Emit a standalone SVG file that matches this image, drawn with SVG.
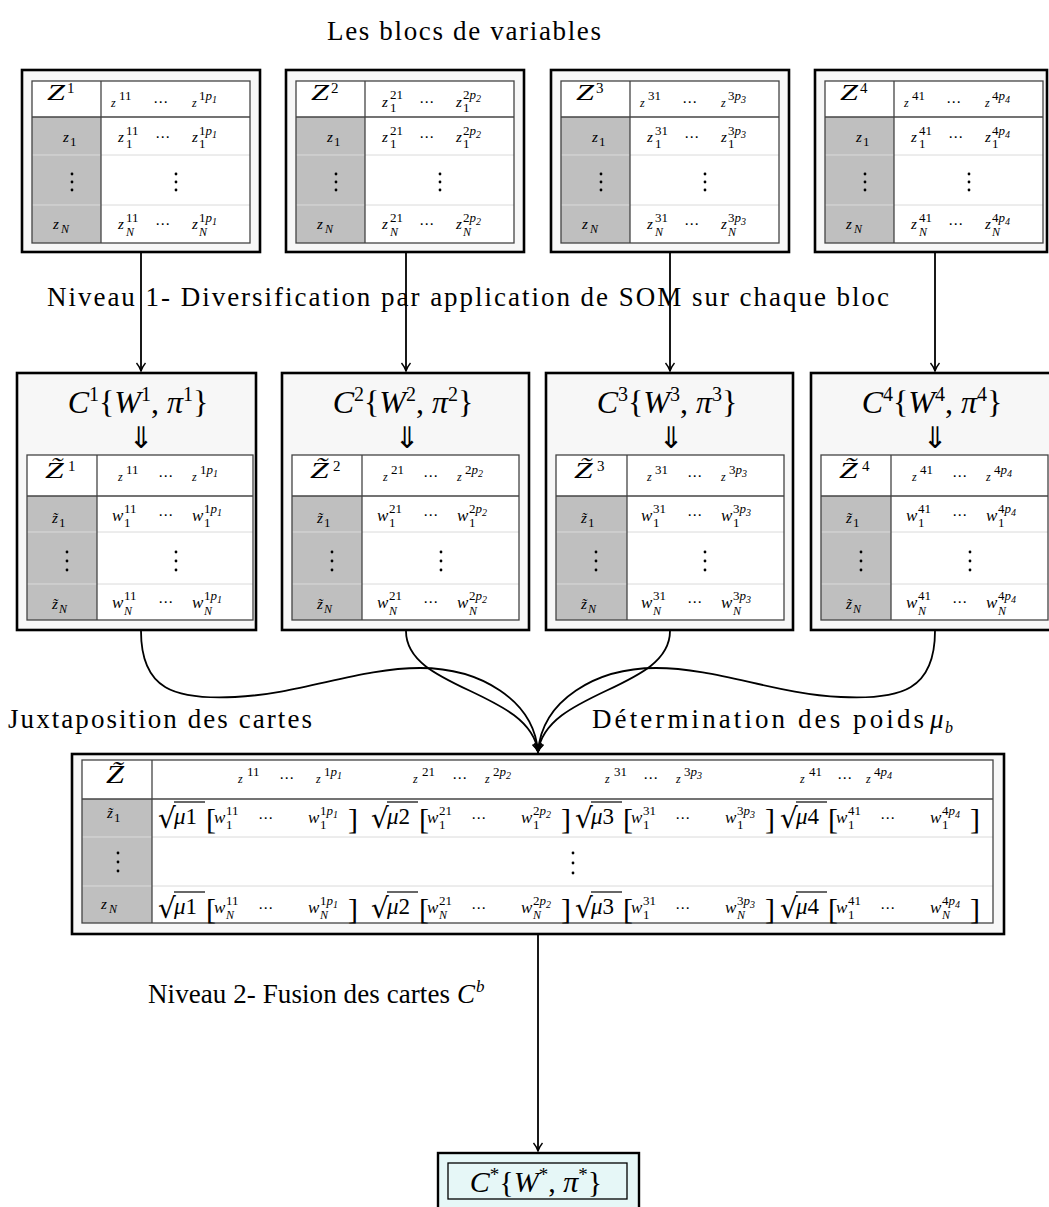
<svg xmlns="http://www.w3.org/2000/svg" width="1049" height="1207" viewBox="0 0 1049 1207">
<style>
text{font-family:"Liberation Serif","DejaVu Serif",serif;fill:#000}
.i{font-style:italic}
.box{fill:#f7f7f7;stroke:#000;stroke-width:2.6}
.tab{fill:#fff;stroke:none}
.tb{fill:none;stroke:#444;stroke-width:1.3}
.gray{fill:#bfbfbf}
.ln{stroke:#444;stroke-width:1.3}
.fl{stroke:#dadada;stroke-width:1}
.lab{font-size:27px}
.Z{font-size:24px;font-style:italic}
.Zs{font-size:15px}
.zh{font-size:12px;font-style:italic}
.z{font-size:15px;font-style:italic}
.s{font-size:13px}
.sN{font-size:12px;font-style:italic}
.ss{font-size:10px;font-style:italic}
.w{font-size:17px;font-style:italic}
.cd{font-family:"DejaVu Sans",sans-serif;font-size:15px}
.title{font-size:32px}
.dar{font-family:"DejaVu Sans",sans-serif;font-size:30px}
.rad{font-family:"DejaVu Serif",serif;font-size:28px}
.mu{font-size:23px}
.br{font-size:30px}
.res{font-size:30px}
.ob{stroke:#000;stroke-width:1.2}
.con{fill:none;stroke:#000;stroke-width:1.8}
.res-box{fill:#e6f7f7;stroke:#000;stroke-width:2.4}
.res-in{fill:#e6f7f7;stroke:#000;stroke-width:1.3}
</style>
<defs>
<marker id="ah" markerUnits="userSpaceOnUse" viewBox="-9 -6 10 12" refX="0" refY="0" markerWidth="10" markerHeight="12" orient="auto">
<path d="M-8,-4.5 C-5,-2 -2,-0.6 0,0 C-2,0.6 -5,2 -8,4.5" fill="none" stroke="#000" stroke-width="1.4"/>
</marker>
<circle id="d" r="1.4" fill="#000"/>
</defs>
<rect width="1049" height="1207" fill="#fff"/>

<g id="labels">
<text class="lab" x="327" y="40" textLength="274" lengthAdjust="spacing">Les blocs de variables</text>
<text class="lab" x="47" y="306" textLength="842" lengthAdjust="spacing">Niveau 1- Diversification par application de SOM sur chaque bloc</text>
<text class="lab" x="8" y="728" textLength="304" lengthAdjust="spacing">Juxtaposition des cartes</text>
<text class="lab" x="592" y="728" textLength="332" lengthAdjust="spacing">Détermination des poids</text>
<text class="lab i" x="930" y="728">μ</text><text class="sN" x="945" y="733" style="font-size:16px">b</text>
<text class="lab" x="148" y="1003" textLength="302" lengthAdjust="spacing">Niveau 2- Fusion des cartes</text>
<text class="lab i" x="457" y="1003">C</text><text class="sN" x="476" y="992" style="font-size:17px">b</text>
</g>

<!-- top blocks -->
<g id="block1" transform="translate(22,70)">
<rect class="box" width="238" height="182"/>
<rect class="tab" x="10" y="11" width="218" height="162"/>
<rect class="gray" x="10" y="47" width="69" height="126"/>
<line class="fl" x1="10" y1="85" x2="228" y2="85"/><line class="fl" x1="10" y1="135" x2="228" y2="135"/>
<line class="ln" x1="10" y1="47" x2="228" y2="47"/><line class="ln" x1="79" y1="11" x2="79" y2="173"/>
<rect class="tb" x="10" y="11" width="218" height="162"/>
<text class="Z" x="25" y="30" textLength="18" lengthAdjust="spacingAndGlyphs">Z</text><text class="Zs" x="45" y="23">1</text>
<text class="zh" x="89" y="37">z</text><text class="s" x="97" y="30">11</text><text class="cd" x="131" y="37">⋯</text><text class="zh" x="170" y="37">z</text><text class="s" x="177" y="30">1<tspan class="i">p</tspan><tspan class="ss" dy="3">1</tspan></text>
<text class="z" x="41" y="72">z</text><text class="s" x="48" y="76">1</text>
<text class="z" x="96" y="72">z</text><text class="s" x="104" y="65">11</text><text class="s" x="104" y="78">1</text><text class="cd" x="133" y="72">⋯</text><text class="z" x="170" y="72">z</text><text class="s" x="177" y="65">1<tspan class="i">p</tspan><tspan class="ss" dy="3">1</tspan></text><text class="s" x="177" y="78">1</text>
<use href="#d" x="50" y="104"/><use href="#d" x="50" y="112"/><use href="#d" x="50" y="120"/>
<use href="#d" x="154" y="104"/><use href="#d" x="154" y="112"/><use href="#d" x="154" y="120"/>
<text class="z" x="31" y="159">z</text><text class="sN" x="39" y="163">N</text>
<text class="z" x="96" y="159">z</text><text class="s" x="104" y="152">11</text><text class="sN" x="104" y="166">N</text><text class="cd" x="133" y="159">⋯</text><text class="z" x="170" y="159">z</text><text class="s" x="177" y="152">1<tspan class="i">p</tspan><tspan class="ss" dy="3">1</tspan></text><text class="sN" x="177" y="166">N</text>
</g>

<g id="block2" transform="translate(286,70)">
<rect class="box" width="238" height="182"/>
<rect class="tab" x="10" y="11" width="218" height="162"/>
<rect class="gray" x="10" y="47" width="69" height="126"/>
<line class="fl" x1="10" y1="85" x2="228" y2="85"/><line class="fl" x1="10" y1="135" x2="228" y2="135"/>
<line class="ln" x1="10" y1="47" x2="228" y2="47"/><line class="ln" x1="79" y1="11" x2="79" y2="173"/>
<rect class="tb" x="10" y="11" width="218" height="162"/>
<text class="Z" x="25" y="30" textLength="18" lengthAdjust="spacingAndGlyphs">Z</text><text class="Zs" x="45" y="23">2</text>
<text class="z" x="96" y="37">z</text><text class="s" x="104" y="29">21</text><text class="s" x="104" y="42">1</text><text class="cd" x="133" y="37">⋯</text><text class="z" x="170" y="37">z</text><text class="s" x="177" y="29">2<tspan class="i">p</tspan><tspan class="ss" dy="3">2</tspan></text><text class="s" x="177" y="42">1</text>
<text class="z" x="41" y="72">z</text><text class="s" x="48" y="76">1</text>
<text class="z" x="96" y="72">z</text><text class="s" x="104" y="65">21</text><text class="s" x="104" y="78">1</text><text class="cd" x="133" y="72">⋯</text><text class="z" x="170" y="72">z</text><text class="s" x="177" y="65">2<tspan class="i">p</tspan><tspan class="ss" dy="3">2</tspan></text><text class="s" x="177" y="78">1</text>
<use href="#d" x="50" y="104"/><use href="#d" x="50" y="112"/><use href="#d" x="50" y="120"/>
<use href="#d" x="154" y="104"/><use href="#d" x="154" y="112"/><use href="#d" x="154" y="120"/>
<text class="z" x="31" y="159">z</text><text class="sN" x="39" y="163">N</text>
<text class="z" x="96" y="159">z</text><text class="s" x="104" y="152">21</text><text class="sN" x="104" y="166">N</text><text class="cd" x="133" y="159">⋯</text><text class="z" x="170" y="159">z</text><text class="s" x="177" y="152">2<tspan class="i">p</tspan><tspan class="ss" dy="3">2</tspan></text><text class="sN" x="177" y="166">N</text>
</g>

<g id="block3" transform="translate(551,70)">
<rect class="box" width="238" height="182"/>
<rect class="tab" x="10" y="11" width="218" height="162"/>
<rect class="gray" x="10" y="47" width="69" height="126"/>
<line class="fl" x1="10" y1="85" x2="228" y2="85"/><line class="fl" x1="10" y1="135" x2="228" y2="135"/>
<line class="ln" x1="10" y1="47" x2="228" y2="47"/><line class="ln" x1="79" y1="11" x2="79" y2="173"/>
<rect class="tb" x="10" y="11" width="218" height="162"/>
<text class="Z" x="25" y="30" textLength="18" lengthAdjust="spacingAndGlyphs">Z</text><text class="Zs" x="45" y="23">3</text>
<text class="zh" x="89" y="37">z</text><text class="s" x="97" y="30">31</text><text class="cd" x="131" y="37">⋯</text><text class="zh" x="170" y="37">z</text><text class="s" x="177" y="30">3<tspan class="i">p</tspan><tspan class="ss" dy="3">3</tspan></text>
<text class="z" x="41" y="72">z</text><text class="s" x="48" y="76">1</text>
<text class="z" x="96" y="72">z</text><text class="s" x="104" y="65">31</text><text class="s" x="104" y="78">1</text><text class="cd" x="133" y="72">⋯</text><text class="z" x="170" y="72">z</text><text class="s" x="177" y="65">3<tspan class="i">p</tspan><tspan class="ss" dy="3">3</tspan></text><text class="s" x="177" y="78">1</text>
<use href="#d" x="50" y="104"/><use href="#d" x="50" y="112"/><use href="#d" x="50" y="120"/>
<use href="#d" x="154" y="104"/><use href="#d" x="154" y="112"/><use href="#d" x="154" y="120"/>
<text class="z" x="31" y="159">z</text><text class="sN" x="39" y="163">N</text>
<text class="z" x="96" y="159">z</text><text class="s" x="104" y="152">31</text><text class="sN" x="104" y="166">N</text><text class="cd" x="133" y="159">⋯</text><text class="z" x="170" y="159">z</text><text class="s" x="177" y="152">3<tspan class="i">p</tspan><tspan class="ss" dy="3">3</tspan></text><text class="sN" x="177" y="166">N</text>
</g>

<g id="block4" transform="translate(815,70)">
<rect class="box" width="232" height="182"/>
<rect class="tab" x="10" y="11" width="218" height="162"/>
<rect class="gray" x="10" y="47" width="69" height="126"/>
<line class="fl" x1="10" y1="85" x2="228" y2="85"/><line class="fl" x1="10" y1="135" x2="228" y2="135"/>
<line class="ln" x1="10" y1="47" x2="228" y2="47"/><line class="ln" x1="79" y1="11" x2="79" y2="173"/>
<rect class="tb" x="10" y="11" width="218" height="162"/>
<text class="Z" x="25" y="30" textLength="18" lengthAdjust="spacingAndGlyphs">Z</text><text class="Zs" x="45" y="23">4</text>
<text class="zh" x="89" y="37">z</text><text class="s" x="97" y="30">41</text><text class="cd" x="131" y="37">⋯</text><text class="zh" x="170" y="37">z</text><text class="s" x="177" y="30">4<tspan class="i">p</tspan><tspan class="ss" dy="3">4</tspan></text>
<text class="z" x="41" y="72">z</text><text class="s" x="48" y="76">1</text>
<text class="z" x="96" y="72">z</text><text class="s" x="104" y="65">41</text><text class="s" x="104" y="78">1</text><text class="cd" x="133" y="72">⋯</text><text class="z" x="170" y="72">z</text><text class="s" x="177" y="65">4<tspan class="i">p</tspan><tspan class="ss" dy="3">4</tspan></text><text class="s" x="177" y="78">1</text>
<use href="#d" x="50" y="104"/><use href="#d" x="50" y="112"/><use href="#d" x="50" y="120"/>
<use href="#d" x="154" y="104"/><use href="#d" x="154" y="112"/><use href="#d" x="154" y="120"/>
<text class="z" x="31" y="159">z</text><text class="sN" x="39" y="163">N</text>
<text class="z" x="96" y="159">z</text><text class="s" x="104" y="152">41</text><text class="sN" x="104" y="166">N</text><text class="cd" x="133" y="159">⋯</text><text class="z" x="170" y="159">z</text><text class="s" x="177" y="152">4<tspan class="i">p</tspan><tspan class="ss" dy="3">4</tspan></text><text class="sN" x="177" y="166">N</text>
</g>

<!-- maps -->
<g id="map1" transform="translate(17,373)">
<rect class="box" width="239" height="257"/>
<text class="title" x="121" y="40" text-anchor="middle"><tspan class="i">C</tspan><tspan font-size="20" dy="-12">1</tspan><tspan dy="12">{</tspan><tspan class="i">W</tspan><tspan font-size="20" dy="-12">1</tspan><tspan dy="12">, </tspan><tspan class="i">π</tspan><tspan font-size="20" dy="-12">1</tspan><tspan dy="12">}</tspan></text>
<text class="dar" x="124" y="75" text-anchor="middle">⇓</text>
<rect class="tab" x="10" y="82" width="226" height="165"/>
<rect class="gray" x="10" y="123" width="70" height="124"/>
<line class="fl" x1="10" y1="159" x2="236" y2="159"/><line class="fl" x1="10" y1="211" x2="236" y2="211"/>
<line class="ln" x1="10" y1="123" x2="236" y2="123"/><line class="ln" x1="80" y1="82" x2="80" y2="247"/>
<rect class="tb" x="10" y="82" width="226" height="165"/>
<text class="Z" transform="translate(28,105) scale(1.4,1)">Z&#x303;</text><text class="Zs" x="51" y="98">1</text>
<text class="zh" x="101" y="108">z</text><text class="s" x="109" y="101">11</text><text class="cd" x="141" y="108">⋯</text><text class="zh" x="175" y="108">z</text><text class="s" x="183" y="101">1<tspan class="i">p</tspan><tspan class="ss" dy="3">1</tspan></text>
<text class="z" x="35" y="150">z&#x303;</text><text class="s" x="42" y="154">1</text>
<text class="w" x="95" y="148">w</text><text class="s" x="107" y="140">11</text><text class="s" x="107" y="154">1</text><text class="cd" x="141" y="147">⋯</text><text class="w" x="175" y="148">w</text><text class="s" x="187" y="140">1<tspan class="i">p</tspan><tspan class="ss" dy="3">1</tspan></text><text class="s" x="187" y="154">1</text>
<use href="#d" x="50" y="179"/><use href="#d" x="50" y="188"/><use href="#d" x="50" y="197"/>
<use href="#d" x="159" y="179"/><use href="#d" x="159" y="188"/><use href="#d" x="159" y="197"/>
<text class="z" x="35" y="236">z&#x303;</text><text class="sN" x="42" y="240">N</text>
<text class="w" x="95" y="235">w</text><text class="s" x="107" y="227">11</text><text class="sN" x="107" y="242">N</text><text class="cd" x="141" y="234">⋯</text><text class="w" x="175" y="235">w</text><text class="s" x="187" y="227">1<tspan class="i">p</tspan><tspan class="ss" dy="3">1</tspan></text><text class="sN" x="187" y="242">N</text>
</g>

<g id="map2" transform="translate(282,373)">
<rect class="box" width="247" height="257"/>
<text class="title" x="121" y="40" text-anchor="middle"><tspan class="i">C</tspan><tspan font-size="20" dy="-12">2</tspan><tspan dy="12">{</tspan><tspan class="i">W</tspan><tspan font-size="20" dy="-12">2</tspan><tspan dy="12">, </tspan><tspan class="i">π</tspan><tspan font-size="20" dy="-12">2</tspan><tspan dy="12">}</tspan></text>
<text class="dar" x="125" y="75" text-anchor="middle">⇓</text>
<rect class="tab" x="10" y="82" width="227" height="165"/>
<rect class="gray" x="10" y="123" width="70" height="124"/>
<line class="fl" x1="10" y1="159" x2="237" y2="159"/><line class="fl" x1="10" y1="211" x2="237" y2="211"/>
<line class="ln" x1="10" y1="123" x2="237" y2="123"/><line class="ln" x1="80" y1="82" x2="80" y2="247"/>
<rect class="tb" x="10" y="82" width="227" height="165"/>
<text class="Z" transform="translate(28,105) scale(1.4,1)">Z&#x303;</text><text class="Zs" x="51" y="98">2</text>
<text class="zh" x="101" y="108">z</text><text class="s" x="109" y="101">21</text><text class="cd" x="141" y="108">⋯</text><text class="zh" x="175" y="108">z</text><text class="s" x="183" y="101">2<tspan class="i">p</tspan><tspan class="ss" dy="3">2</tspan></text>
<text class="z" x="35" y="150">z&#x303;</text><text class="s" x="42" y="154">1</text>
<text class="w" x="95" y="148">w</text><text class="s" x="107" y="140">21</text><text class="s" x="107" y="154">1</text><text class="cd" x="141" y="147">⋯</text><text class="w" x="175" y="148">w</text><text class="s" x="187" y="140">2<tspan class="i">p</tspan><tspan class="ss" dy="3">2</tspan></text><text class="s" x="187" y="154">1</text>
<use href="#d" x="50" y="179"/><use href="#d" x="50" y="188"/><use href="#d" x="50" y="197"/>
<use href="#d" x="159" y="179"/><use href="#d" x="159" y="188"/><use href="#d" x="159" y="197"/>
<text class="z" x="35" y="236">z&#x303;</text><text class="sN" x="42" y="240">N</text>
<text class="w" x="95" y="235">w</text><text class="s" x="107" y="227">21</text><text class="sN" x="107" y="242">N</text><text class="cd" x="141" y="234">⋯</text><text class="w" x="175" y="235">w</text><text class="s" x="187" y="227">2<tspan class="i">p</tspan><tspan class="ss" dy="3">2</tspan></text><text class="sN" x="187" y="242">N</text>
</g>

<g id="map3" transform="translate(546,373)">
<rect class="box" width="247" height="257"/>
<text class="title" x="121" y="40" text-anchor="middle"><tspan class="i">C</tspan><tspan font-size="20" dy="-12">3</tspan><tspan dy="12">{</tspan><tspan class="i">W</tspan><tspan font-size="20" dy="-12">3</tspan><tspan dy="12">, </tspan><tspan class="i">π</tspan><tspan font-size="20" dy="-12">3</tspan><tspan dy="12">}</tspan></text>
<text class="dar" x="125" y="75" text-anchor="middle">⇓</text>
<rect class="tab" x="10" y="82" width="228" height="165"/>
<rect class="gray" x="10" y="123" width="71" height="124"/>
<line class="fl" x1="10" y1="159" x2="238" y2="159"/><line class="fl" x1="10" y1="211" x2="238" y2="211"/>
<line class="ln" x1="10" y1="123" x2="238" y2="123"/><line class="ln" x1="81" y1="82" x2="81" y2="247"/>
<rect class="tb" x="10" y="82" width="228" height="165"/>
<text class="Z" transform="translate(28,105) scale(1.4,1)">Z&#x303;</text><text class="Zs" x="51" y="98">3</text>
<text class="zh" x="101" y="108">z</text><text class="s" x="109" y="101">31</text><text class="cd" x="141" y="108">⋯</text><text class="zh" x="175" y="108">z</text><text class="s" x="183" y="101">3<tspan class="i">p</tspan><tspan class="ss" dy="3">3</tspan></text>
<text class="z" x="35" y="150">z&#x303;</text><text class="s" x="42" y="154">1</text>
<text class="w" x="95" y="148">w</text><text class="s" x="107" y="140">31</text><text class="s" x="107" y="154">1</text><text class="cd" x="141" y="147">⋯</text><text class="w" x="175" y="148">w</text><text class="s" x="187" y="140">3<tspan class="i">p</tspan><tspan class="ss" dy="3">3</tspan></text><text class="s" x="187" y="154">1</text>
<use href="#d" x="50" y="179"/><use href="#d" x="50" y="188"/><use href="#d" x="50" y="197"/>
<use href="#d" x="159" y="179"/><use href="#d" x="159" y="188"/><use href="#d" x="159" y="197"/>
<text class="z" x="35" y="236">z&#x303;</text><text class="sN" x="42" y="240">N</text>
<text class="w" x="95" y="235">w</text><text class="s" x="107" y="227">31</text><text class="sN" x="107" y="242">N</text><text class="cd" x="141" y="234">⋯</text><text class="w" x="175" y="235">w</text><text class="s" x="187" y="227">3<tspan class="i">p</tspan><tspan class="ss" dy="3">3</tspan></text><text class="sN" x="187" y="242">N</text>
</g>

<g id="map4" transform="translate(811,373)">
<rect class="box" width="247" height="257"/>
<text class="title" x="121" y="40" text-anchor="middle"><tspan class="i">C</tspan><tspan font-size="20" dy="-12">4</tspan><tspan dy="12">{</tspan><tspan class="i">W</tspan><tspan font-size="20" dy="-12">4</tspan><tspan dy="12">, </tspan><tspan class="i">π</tspan><tspan font-size="20" dy="-12">4</tspan><tspan dy="12">}</tspan></text>
<text class="dar" x="124" y="75" text-anchor="middle">⇓</text>
<rect class="tab" x="10" y="82" width="227" height="165"/>
<rect class="gray" x="10" y="123" width="70" height="124"/>
<line class="fl" x1="10" y1="159" x2="237" y2="159"/><line class="fl" x1="10" y1="211" x2="237" y2="211"/>
<line class="ln" x1="10" y1="123" x2="237" y2="123"/><line class="ln" x1="80" y1="82" x2="80" y2="247"/>
<rect class="tb" x="10" y="82" width="227" height="165"/>
<text class="Z" transform="translate(28,105) scale(1.4,1)">Z&#x303;</text><text class="Zs" x="51" y="98">4</text>
<text class="zh" x="101" y="108">z</text><text class="s" x="109" y="101">41</text><text class="cd" x="141" y="108">⋯</text><text class="zh" x="175" y="108">z</text><text class="s" x="183" y="101">4<tspan class="i">p</tspan><tspan class="ss" dy="3">4</tspan></text>
<text class="z" x="35" y="150">z&#x303;</text><text class="s" x="42" y="154">1</text>
<text class="w" x="95" y="148">w</text><text class="s" x="107" y="140">41</text><text class="s" x="107" y="154">1</text><text class="cd" x="141" y="147">⋯</text><text class="w" x="175" y="148">w</text><text class="s" x="187" y="140">4<tspan class="i">p</tspan><tspan class="ss" dy="3">4</tspan></text><text class="s" x="187" y="154">1</text>
<use href="#d" x="50" y="179"/><use href="#d" x="50" y="188"/><use href="#d" x="50" y="197"/>
<use href="#d" x="159" y="179"/><use href="#d" x="159" y="188"/><use href="#d" x="159" y="197"/>
<text class="z" x="35" y="236">z&#x303;</text><text class="sN" x="42" y="240">N</text>
<text class="w" x="95" y="235">w</text><text class="s" x="107" y="227">41</text><text class="sN" x="107" y="242">N</text><text class="cd" x="141" y="234">⋯</text><text class="w" x="175" y="235">w</text><text class="s" x="187" y="227">4<tspan class="i">p</tspan><tspan class="ss" dy="3">4</tspan></text><text class="sN" x="187" y="242">N</text>
</g>

<!-- fused table -->
<g id="fusion">
<rect class="box" x="72" y="754" width="932" height="180"/>
<rect class="tab" x="82" y="760" width="911" height="163"/>
<rect class="gray" x="82" y="799" width="70" height="124"/>
<line class="fl" x1="82" y1="837" x2="993" y2="837"/><line class="fl" x1="82" y1="886" x2="993" y2="886"/>
<line class="ln" x1="82" y1="799" x2="993" y2="799"/><line class="ln" x1="152" y1="760" x2="152" y2="923"/>
<rect class="tb" x="82" y="760" width="911" height="163"/>
<text class="Z" transform="translate(106,783) scale(1.25,1)" style="font-size:26px">Z&#x303;</text>
<text class="zh" x="238" y="783">z</text><text class="s" x="247" y="776">11</text><text class="cd" x="279" y="783">⋯</text><text class="zh" x="316" y="783">z</text><text class="s" x="324" y="776">1<tspan class="i">p</tspan><tspan class="ss" dy="3">1</tspan></text>
<text class="zh" x="413" y="783">z</text><text class="s" x="422" y="776">21</text><text class="cd" x="452" y="783">⋯</text><text class="zh" x="485" y="783">z</text><text class="s" x="493" y="776">2<tspan class="i">p</tspan><tspan class="ss" dy="3">2</tspan></text>
<text class="zh" x="605" y="783">z</text><text class="s" x="614" y="776">31</text><text class="cd" x="643" y="783">⋯</text><text class="zh" x="676" y="783">z</text><text class="s" x="684" y="776">3<tspan class="i">p</tspan><tspan class="ss" dy="3">3</tspan></text>
<text class="zh" x="800" y="783">z</text><text class="s" x="809" y="776">41</text><text class="cd" x="837" y="783">⋯</text><text class="zh" x="866" y="783">z</text><text class="s" x="874" y="776">4<tspan class="i">p</tspan><tspan class="ss" dy="3">4</tspan></text>
<text class="z" x="107" y="818">z&#x303;</text><text class="s" x="114" y="822">1</text>
<use href="#d" x="118" y="853"/><use href="#d" x="118" y="862"/><use href="#d" x="118" y="871"/>
<use href="#d" x="573" y="853"/><use href="#d" x="573" y="863"/><use href="#d" x="573" y="873"/>
<text class="z" x="101" y="909">z</text><text class="sN" x="109" y="913">N</text>
<g id="r1">
<text class="rad" x="158" y="828">√</text><line class="ob" x1="174" y1="802" x2="205" y2="802"/><text class="mu" x="174" y="824"><tspan class="i">μ</tspan>1</text><text class="br" x="206" y="829">[</text>
<text class="w" x="214" y="823">w</text><text class="s" x="226" y="815">11</text><text class="s" x="226" y="829">1</text><text class="cd" x="258" y="823">⋯</text><text class="w" x="308" y="823">w</text><text class="s" x="320" y="815">1<tspan class="i">p</tspan><tspan class="ss" dy="3">1</tspan></text><text class="s" x="320" y="829">1</text><text class="br" x="348" y="829">]</text>
<text class="rad" x="371" y="828">√</text><line class="ob" x1="387" y1="802" x2="418" y2="802"/><text class="mu" x="387" y="824"><tspan class="i">μ</tspan>2</text><text class="br" x="419" y="829">[</text>
<text class="w" x="427" y="823">w</text><text class="s" x="439" y="815">21</text><text class="s" x="439" y="829">1</text><text class="cd" x="471" y="823">⋯</text><text class="w" x="521" y="823">w</text><text class="s" x="533" y="815">2<tspan class="i">p</tspan><tspan class="ss" dy="3">2</tspan></text><text class="s" x="533" y="829">1</text><text class="br" x="561" y="829">]</text>
<text class="rad" x="575" y="828">√</text><line class="ob" x1="591" y1="802" x2="622" y2="802"/><text class="mu" x="591" y="824"><tspan class="i">μ</tspan>3</text><text class="br" x="623" y="829">[</text>
<text class="w" x="631" y="823">w</text><text class="s" x="643" y="815">31</text><text class="s" x="643" y="829">1</text><text class="cd" x="675" y="823">⋯</text><text class="w" x="725" y="823">w</text><text class="s" x="737" y="815">3<tspan class="i">p</tspan><tspan class="ss" dy="3">3</tspan></text><text class="s" x="737" y="829">1</text><text class="br" x="765" y="829">]</text>
<text class="rad" x="780" y="828">√</text><line class="ob" x1="796" y1="802" x2="827" y2="802"/><text class="mu" x="796" y="824"><tspan class="i">μ</tspan>4</text><text class="br" x="828" y="829">[</text>
<text class="w" x="836" y="823">w</text><text class="s" x="848" y="815">41</text><text class="s" x="848" y="829">1</text><text class="cd" x="880" y="823">⋯</text><text class="w" x="930" y="823">w</text><text class="s" x="942" y="815">4<tspan class="i">p</tspan><tspan class="ss" dy="3">4</tspan></text><text class="s" x="942" y="829">1</text><text class="br" x="970" y="829">]</text>
</g>
<g id="rN">
<text class="rad" x="158" y="918">√</text><line class="ob" x1="174" y1="892" x2="205" y2="892"/><text class="mu" x="174" y="914"><tspan class="i">μ</tspan>1</text><text class="br" x="206" y="919">[</text>
<text class="w" x="214" y="913">w</text><text class="s" x="226" y="905">11</text><text class="sN" x="226" y="919">N</text><text class="cd" x="258" y="913">⋯</text><text class="w" x="308" y="913">w</text><text class="s" x="320" y="905">1<tspan class="i">p</tspan><tspan class="ss" dy="3">1</tspan></text><text class="sN" x="320" y="919">N</text><text class="br" x="348" y="919">]</text>
<text class="rad" x="371" y="918">√</text><line class="ob" x1="387" y1="892" x2="418" y2="892"/><text class="mu" x="387" y="914"><tspan class="i">μ</tspan>2</text><text class="br" x="419" y="919">[</text>
<text class="w" x="427" y="913">w</text><text class="s" x="439" y="905">21</text><text class="sN" x="439" y="919">N</text><text class="cd" x="471" y="913">⋯</text><text class="w" x="521" y="913">w</text><text class="s" x="533" y="905">2<tspan class="i">p</tspan><tspan class="ss" dy="3">2</tspan></text><text class="sN" x="533" y="919">N</text><text class="br" x="561" y="919">]</text>
<text class="rad" x="575" y="918">√</text><line class="ob" x1="591" y1="892" x2="622" y2="892"/><text class="mu" x="591" y="914"><tspan class="i">μ</tspan>3</text><text class="br" x="623" y="919">[</text>
<text class="w" x="631" y="913">w</text><text class="s" x="643" y="905">31</text><text class="s" x="643" y="919">1</text><text class="cd" x="675" y="913">⋯</text><text class="w" x="725" y="913">w</text><text class="s" x="737" y="905">3<tspan class="i">p</tspan><tspan class="ss" dy="3">3</tspan></text><text class="sN" x="737" y="919">N</text><text class="br" x="765" y="919">]</text>
<text class="rad" x="780" y="918">√</text><line class="ob" x1="796" y1="892" x2="827" y2="892"/><text class="mu" x="796" y="914"><tspan class="i">μ</tspan>4</text><text class="br" x="828" y="919">[</text>
<text class="w" x="836" y="913">w</text><text class="s" x="848" y="905">41</text><text class="s" x="848" y="919">1</text><text class="cd" x="880" y="913">⋯</text><text class="w" x="930" y="913">w</text><text class="s" x="942" y="905">4<tspan class="i">p</tspan><tspan class="ss" dy="3">4</tspan></text><text class="sN" x="942" y="919">N</text><text class="br" x="970" y="919">]</text>
</g>
</g>

<g id="result">
<rect class="res-box" x="438" y="1153" width="201" height="64"/>
<rect class="res-in" x="448" y="1163" width="179" height="36"/>
<text class="res" x="536" y="1192" text-anchor="middle"><tspan class="i">C</tspan><tspan font-size="19" dy="-11">*</tspan><tspan dy="11">{</tspan><tspan class="i">W</tspan><tspan font-size="19" dy="-11">*</tspan><tspan dy="11">, </tspan><tspan class="i">π</tspan><tspan font-size="19" dy="-11">*</tspan><tspan dy="11">}</tspan></text>
</g>

<g id="connectors">
<path class="con" d="M141,253 V371" marker-end="url(#ah)"/>
<path class="con" d="M406,253 V371" marker-end="url(#ah)"/>
<path class="con" d="M670,253 V371" marker-end="url(#ah)"/>
<path class="con" d="M935,253 V371" marker-end="url(#ah)"/>
<path class="con" d="M141,631 C141,690 175,700 235,697 C300,694 360,668 420,668 C480,668 534,700 538,752" marker-end="url(#ah)"/>
<path class="con" d="M935,631 C935,690 901,700 841,697 C776,694 716,668 656,668 C596,668 542,700 538,752" marker-end="url(#ah)"/>
<path class="con" d="M406,631 C406,690 530,690 538,752" marker-end="url(#ah)"/>
<path class="con" d="M670,631 C670,690 546,690 538,752" marker-end="url(#ah)"/>
<path class="con" d="M538,935 V1151" marker-end="url(#ah)"/>
</g>
</svg>
